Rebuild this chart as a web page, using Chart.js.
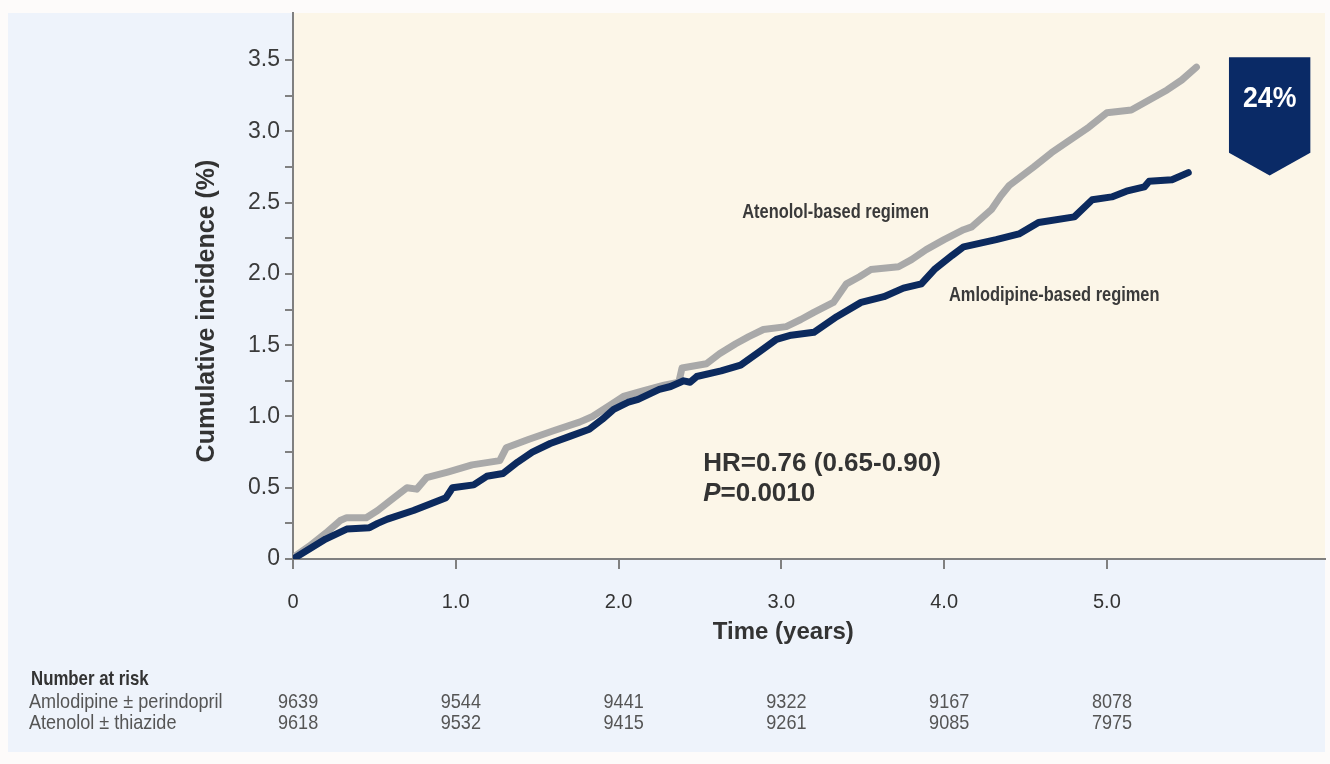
<!DOCTYPE html>
<html>
<head>
<meta charset="utf-8">
<title>Cumulative incidence</title>
<script src="https://cdn.jsdelivr.net/npm/chart.js@4.4.1/dist/chart.umd.min.js"></script>
<style>
  html, body { margin: 0; padding: 0; background: #fdfbfa; }
  #wrap { width: 1330px; height: 764px; }
</style>
</head>
<body>
<div id="wrap"><canvas id="km" width="1330" height="764"></canvas></div>
<script>
// values: time in years, cumulative incidence in %
var amloTime = [0, 0.10, 0.20, 0.33, 0.47, 0.52, 0.58, 0.74, 0.85, 0.94, 0.98, 1.11, 1.19, 1.29, 1.38, 1.47, 1.58, 1.70, 1.82, 1.90, 1.97, 2.06, 2.12, 2.25, 2.32, 2.40, 2.44, 2.48, 2.63, 2.75, 2.86, 2.97, 3.06, 3.20, 3.34, 3.49, 3.63, 3.75, 3.86, 3.94, 4.05, 4.12, 4.32, 4.46, 4.58, 4.80, 4.91, 5.03, 5.12, 5.23, 5.26, 5.40, 5.50];
var amloInc = [0, 0.07, 0.14, 0.21, 0.22, 0.25, 0.28, 0.34, 0.39, 0.43, 0.50, 0.52, 0.58, 0.60, 0.68, 0.75, 0.81, 0.86, 0.91, 0.98, 1.05, 1.10, 1.12, 1.19, 1.21, 1.25, 1.24, 1.28, 1.32, 1.36, 1.45, 1.54, 1.57, 1.59, 1.70, 1.80, 1.84, 1.90, 1.93, 2.03, 2.13, 2.19, 2.24, 2.28, 2.36, 2.40, 2.52, 2.54, 2.58, 2.61, 2.65, 2.66, 2.71];

var atenTime = [0, 0.10, 0.20, 0.29, 0.33, 0.45, 0.52, 0.62, 0.70, 0.76, 0.82, 0.95, 1.10, 1.27, 1.31, 1.45, 1.60, 1.76, 1.84, 1.95, 2.03, 2.15, 2.28, 2.37, 2.39, 2.54, 2.62, 2.72, 2.80, 2.89, 3.03, 3.12, 3.20, 3.32, 3.40, 3.48, 3.55, 3.72, 3.80, 3.89, 4.00, 4.12, 4.17, 4.29, 4.35, 4.40, 4.55, 4.66, 4.75, 4.89, 5.00, 5.15, 5.26, 5.37, 5.46, 5.55];
var atenInc = [0.01, 0.09, 0.18, 0.27, 0.29, 0.29, 0.34, 0.43, 0.50, 0.49, 0.57, 0.61, 0.66, 0.69, 0.78, 0.84, 0.90, 0.96, 1.00, 1.08, 1.14, 1.18, 1.22, 1.24, 1.34, 1.37, 1.44, 1.51, 1.56, 1.61, 1.63, 1.68, 1.73, 1.80, 1.93, 1.98, 2.03, 2.05, 2.10, 2.17, 2.24, 2.31, 2.33, 2.45, 2.55, 2.62, 2.75, 2.85, 2.92, 3.03, 3.13, 3.15, 3.22, 3.29, 3.36, 3.45];

var xTicks = [0, 1, 2, 3, 4, 5];
var yTicks = [0, 0.25, 0.5, 0.75, 1, 1.25, 1.5, 1.75, 2, 2.25, 2.5, 2.75, 3, 3.25, 3.5];

var riskTimes = [0, 1, 2, 3, 4, 5];
var riskAmlo = [9639, 9544, 9441, 9322, 9167, 8078];
var riskAten = [9618, 9532, 9415, 9261, 9085, 7975];
var riskNames = ["Amlodipine \u00b1 perindopril", "Atenolol \u00b1 thiazide"];

var SANS = "'Liberation Sans', Arial, sans-serif";
var NAVY = "#0c2a5e";
var GREY = "#a9a9a9";

function toPoints(ts, vs) {
  return ts.map(function (t, i) { return { x: t, y: vs[i] }; });
}

// the original uses a condensed face, so squeeze the text sideways
function narrowText(ctx, text, x, y, sx) {
  ctx.save();
  ctx.translate(x, y);
  ctx.scale(sx, 1);
  ctx.fillText(text, 0, 0);
  ctx.restore();
}

// backgrounds, annotations and the number-at-risk table
var decor = {
  id: "decor",
  beforeDraw: function (chart) {
    var ctx = chart.ctx;
    var a = chart.chartArea;
    ctx.save();
    ctx.fillStyle = "#fdfbfa";
    ctx.fillRect(0, 0, chart.width, chart.height);
    ctx.fillStyle = "#eef3fb";
    ctx.fillRect(8, 13, 1317, 739);
    ctx.fillStyle = "#fcf6e8";
    ctx.fillRect(a.left, a.top, a.right - a.left, a.bottom - a.top);
    ctx.restore();
  },
  afterDraw: function (chart) {
    var ctx = chart.ctx;
    var xs = chart.scales.x;
    var ys = chart.scales.y;
    ctx.save();

    // axis titles
    ctx.fillStyle = "#333";
    ctx.textAlign = "center";
    ctx.textBaseline = "middle";
    ctx.font = "bold 25px " + SANS;
    ctx.save();
    ctx.translate(207, 311);
    ctx.rotate(-Math.PI / 2);
    ctx.fillText("Cumulative incidence (%)", 0, 0);
    ctx.restore();
    ctx.font = "bold 24px " + SANS;
    ctx.fillText("Time (years)", xs.getPixelForValue(3) + 2, 632);

    // curve labels
    ctx.textAlign = "left";
    ctx.fillStyle = "#3a3a3a";
    ctx.font = "bold 20px " + SANS;
    narrowText(ctx, "Atenolol-based regimen", xs.getPixelForValue(2.76), ys.getPixelForValue(2.43), 0.82);
    narrowText(ctx, "Amlodipine-based regimen", xs.getPixelForValue(4.03), ys.getPixelForValue(1.85), 0.82);

    // hazard ratio
    ctx.fillStyle = "#333";
    ctx.font = "bold 26px " + SANS;
    var hx = xs.getPixelForValue(2.52);
    ctx.fillText("HR=0.76 (0.65-0.90)", hx, ys.getPixelForValue(0.67));
    ctx.font = "italic bold 26px " + SANS;
    ctx.fillText("P", hx, ys.getPixelForValue(0.46));
    var pw = ctx.measureText("P").width;
    ctx.font = "bold 26px " + SANS;
    ctx.fillText("=0.0010", hx + pw, ys.getPixelForValue(0.46));

    // 24% badge
    var bl = xs.getPixelForValue(5.75), br = xs.getPixelForValue(6.25);
    var bc = xs.getPixelForValue(6.0);
    var bt = ys.getPixelForValue(3.52), bs = ys.getPixelForValue(2.85), bp = ys.getPixelForValue(2.69);
    ctx.fillStyle = "#0a2a66";
    ctx.beginPath();
    ctx.moveTo(bl, bt);
    ctx.lineTo(br, bt);
    ctx.lineTo(br, bs);
    ctx.lineTo(bc, bp);
    ctx.lineTo(bl, bs);
    ctx.closePath();
    ctx.fill();
    ctx.fillStyle = "#ffffff";
    ctx.textAlign = "center";
    ctx.font = "bold 29px " + SANS;
    narrowText(ctx, "24%", bc, ys.getPixelForValue(3.23), 0.92);

    // number at risk
    ctx.textAlign = "left";
    ctx.fillStyle = "#333";
    ctx.font = "bold 21px " + SANS;
    narrowText(ctx, "Number at risk", 31, 679, 0.8);
    ctx.fillStyle = "#555";
    ctx.font = "21px " + SANS;
    narrowText(ctx, riskNames[0], 29, 702, 0.86);
    narrowText(ctx, riskNames[1], 29, 723, 0.86);
    riskTimes.forEach(function (t, i) {
      var px = xs.getPixelForValue(t) - 15;
      narrowText(ctx, String(riskAmlo[i]), px, 702, 0.86);
      narrowText(ctx, String(riskAten[i]), px, 723, 0.86);
    });
    ctx.restore();
  }
};

const ctx = document.getElementById("km").getContext("2d");
new Chart(ctx, {
  type: "line",
  data: {
    datasets: [
      {
        label: "Amlodipine-based regimen",
        data: toPoints(amloTime, amloInc),
        borderColor: NAVY,
        borderWidth: 7,
        pointRadius: 0,
        tension: 0,
        borderJoinStyle: "round",
        borderCapStyle: "round",
      },
      {
        label: "Atenolol-based regimen",
        data: toPoints(atenTime, atenInc),
        borderColor: GREY,
        borderWidth: 7,
        pointRadius: 0,
        tension: 0,
        borderJoinStyle: "round",
        borderCapStyle: "round",
      },
    ],
  },
  options: {
    responsive: false,
    animation: false,
    devicePixelRatio: 1,
    layout: { padding: { top: 13, right: 5, left: 0, bottom: 0 } },
    plugins: { legend: { display: false }, tooltip: { enabled: false } },
    scales: {
      x: {
        type: "linear",
        min: 0,
        max: 6.34,
        afterFit: function (scale) {
          scale.height = 205;
          scale.paddingLeft = 0;
          scale.paddingRight = 0;
        },
        afterBuildTicks: function (scale) {
          scale.ticks = xTicks.map(function (v) { return { value: v }; });
        },
        border: { display: true, color: "#808080", width: 2 },
        grid: { drawOnChartArea: false, drawTicks: true, tickLength: 10, color: "#808080", lineWidth: 2 },
        ticks: {
          padding: 21,
          color: "#333",
          font: { family: SANS, size: 20 },
          maxRotation: 0,
          callback: function (v) { return v === 0 ? "0" : v.toFixed(1); },
        },
      },
      y: {
        type: "linear",
        min: 0,
        max: 3.83,
        afterFit: function (scale) {
          scale.width = 293;
          scale.paddingTop = 0;
          scale.paddingBottom = 0;
        },
        afterBuildTicks: function (scale) {
          scale.ticks = yTicks.map(function (v) { return { value: v }; });
        },
        border: { display: true, color: "#808080", width: 2 },
        grid: { drawOnChartArea: false, drawTicks: true, tickLength: 8, color: "#808080", lineWidth: 2 },
        ticks: {
          padding: 5,
          color: "#3a3a3a",
          font: { family: SANS, size: 23 },
          callback: function (v) {
            if (v === 0) return "0";
            if (Math.abs(v * 2 - Math.round(v * 2)) < 1e-9) return v.toFixed(1);
            return "";
          },
        },
      },
    },
  },
  plugins: [decor],
});
</script>
</body>
</html>
